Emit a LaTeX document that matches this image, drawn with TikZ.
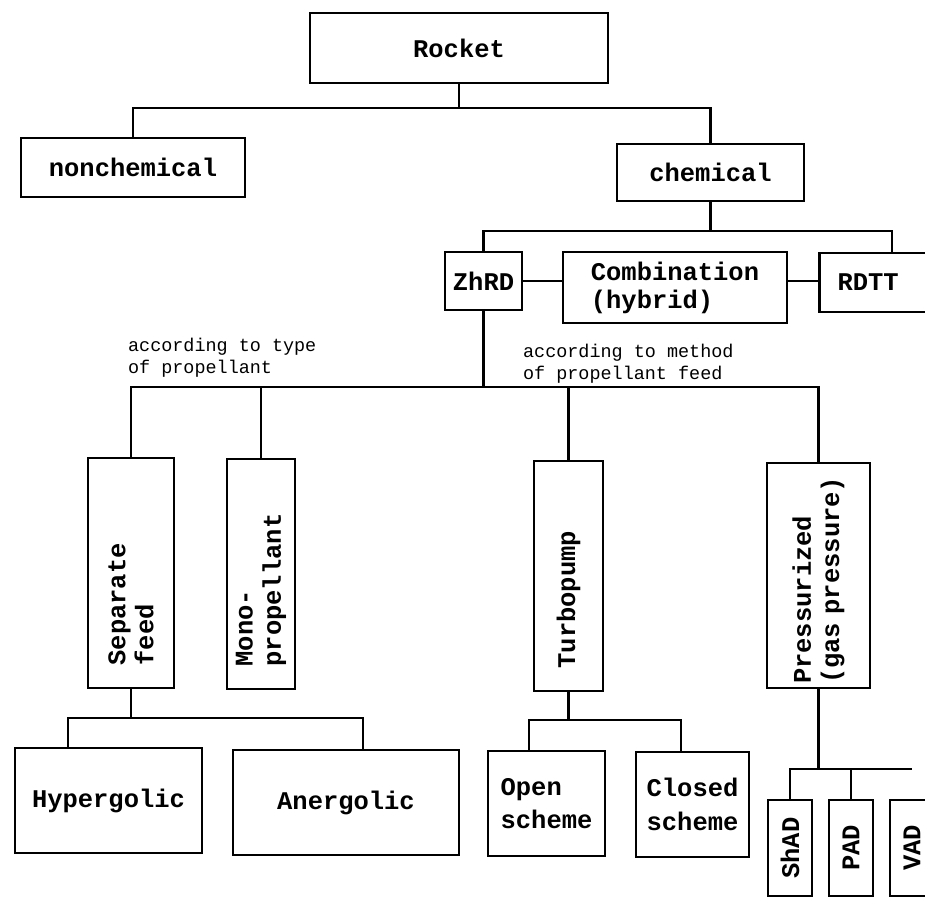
\documentclass[tikz,border=0pt]{standalone}
\usepackage{fontspec}
\setmonofont{Liberation Mono}
\usepackage{tikz}
\def\boxfont{\ttfamily\bfseries\fontsize{14.5}{16}\selectfont}
\def\notefont{\ttfamily\fontsize{10.5}{12}\selectfont}

\begin{document}
\begin{tikzpicture}[x=0.02cm, y=-0.02cm, line width=1.3pt]
		\tikzstyle{box}=[draw, line width=1.5pt, font=\boxfont, inner sep=2pt]
		\tikzstyle{vbox}=[box, rotate=90, align=left, inner xsep=0.45cm, text width=3.7cm]
		\tikzstyle{sbox}=[box, rotate=90, minimum width=1.92cm, minimum height=0.88cm]
		\tikzstyle{note}=[font=\notefont, align=left, inner sep=0pt, anchor=south west]
		
		\useasboundingbox (0,0) rectangle (925,898);
		\clip (0,0) rectangle (925,898);
		
		% Top levels
		\node[box, minimum width=5.96cm, minimum height=1.4cm] (rocket) at (459,48) {Rocket};
		\node[box, minimum width=4.48cm, minimum height=1.18cm] (nonchem) at (133,167.5) {nonchemical};
		\node[box, minimum width=3.74cm, minimum height=1.14cm] (chem) at (710.5,172.5) {chemical};
		
		% Kinds of chemical engine
		\node[box, minimum width=1.54cm, minimum height=1.16cm] (zhrd) at (483.5,281) {ZhRD};
		\node[box, minimum width=4.48cm, minimum height=1.42cm, align=left] (comb) at (675,287.5) {Combination\\(hybrid)};
		\node[box, minimum width=2.9cm, minimum height=1.18cm, inner xsep=0.36cm, text width=2.18cm, align=left] (rdtt) at (892,282.5) {RDTT};
		
		% Notes on the two ways of dividing
		\node[note] (typenote) at (127,378) {according to type\\of propellant};
		\node[note] (feednote) at (522,384) {according to method\\of propellant feed};
		
		% Upright boxes (text runs upward)
		\node[vbox, minimum height=1.72cm] (sep) at (131,573) {Separate\\feed};
		\node[vbox, minimum height=1.36cm] (mono) at (261,574) {Mono-\\propellant};
		\node[vbox, minimum height=1.38cm] (turbo) at (568.5,576) {Turbopump};
		\node[vbox, minimum height=2.06cm, inner xsep=0.08cm, text width=4.34cm] (press) at (818.5,575.5) {Pressurized\\(gas pressure)};
		
		% Bottom row
		\node[box, minimum width=3.74cm, minimum height=2.1cm] (hyper) at (108.5,800.5) {Hypergolic};
		\node[box, minimum width=4.52cm, minimum height=2.1cm] (anerg) at (346,802.5) {Anergolic};
		\node[box, minimum width=2.34cm, minimum height=2.1cm, align=left] (open) at (546.5,803.5) {Open\\[3pt]scheme};
		\node[box, minimum width=2.26cm, minimum height=2.1cm, align=left] (closed) at (692.5,804.5) {Closed\\[3pt]scheme};
		\node[sbox] (shad) at (790,848) {ShAD};
		\node[sbox] (pad) at (851,848) {PAD};
		\node[sbox] (vad) at (912,848) {VAD};
		
		% Forks
		\coordinate (b1) at (459,108);
		\coordinate (b2) at (710.5,231);
		\coordinate (b3) at (483.5,387);
		\coordinate (b4) at (131,718);
		\coordinate (b4l) at (68,718);
		\coordinate (b4r) at (363,718);
		\coordinate (b5) at (568.5,720);
		\coordinate (b5l) at (529,720);
		\coordinate (b5r) at (681,720);
		\coordinate (b6) at (818.5,769);
		
		% Connect the tree
		\draw (rocket) -- (b1);
		\draw (nonchem) |- (b1) -| (chem);
		\draw (chem) -- (b2);
		\draw (zhrd) |- (b2) -| (rdtt);
		\draw (zhrd.east) -- (zhrd.east -| comb.west);
		\draw (comb.east |- zhrd.east) -- (rdtt.west |- zhrd.east);
		\draw (zhrd) -- (b3);
		\draw (sep) |- (b3) -| (press);
		\draw (mono) -- (mono |- b3);
		\draw (turbo) -- (turbo |- b3);
		\draw (sep) -- (b4);
		\draw (hyper.north -| b4l) -- (b4l) -- (b4r) -- (anerg.north -| b4r);
		\draw (turbo) -- (b5);
		\draw (open.north -| b5l) -- (b5l) -- (b5r) -- (closed.north -| b5r);
		\draw (press) -- (b6);
		\draw (shad) |- (b6) -- (b6 -| vad);
		\draw (pad) -- (pad |- b6);
	\end{tikzpicture}
\end{document}
